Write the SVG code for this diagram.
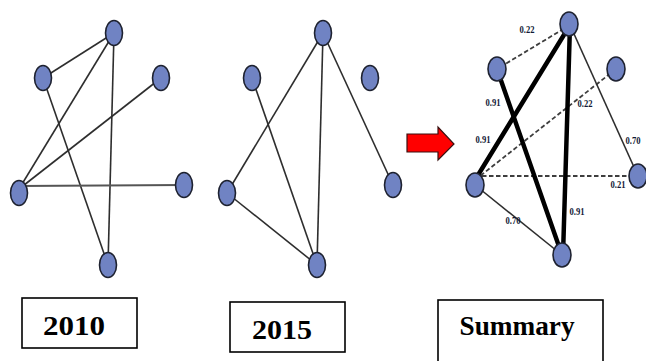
<svg xmlns="http://www.w3.org/2000/svg" width="646" height="361" viewBox="0 0 646 361">
<style>
.n{fill:#7083c3;stroke:#1e2230;stroke-width:1.6}
.e{stroke:#2e2e2e;stroke-width:1.6;fill:none}
.t{stroke:#000;stroke-width:4.5;fill:none;stroke-linecap:round}
.d{stroke:#3e3e3e;stroke-width:1.8;stroke-dasharray:4.5 2.5;fill:none}
.w{font-family:"Liberation Serif",serif;font-weight:bold;font-size:11px;fill:#121a36;text-anchor:middle}
.box{fill:#fff;stroke:#000;stroke-width:1.6}
.lbl{font-family:"Liberation Serif",serif;font-weight:bold;font-size:27px;fill:#000;text-anchor:middle}
</style>
<rect width="646" height="361" fill="#fff"/>
<g id="connectors">
<!-- 2010 -->
<line class="e" x1="114" y1="33" x2="43" y2="78"/>
<line class="e" x1="114" y1="33" x2="19" y2="189"/>
<line class="e" x1="114" y1="33" x2="108" y2="265"/>
<line class="e" x1="43" y1="78" x2="108" y2="265"/>
<line class="e" x1="19" y1="189" x2="161" y2="78"/>
<line class="e" x1="19" y1="186" x2="184" y2="185" style="stroke:#555;stroke-width:2"/>
<!-- 2015 -->
<line class="e" x1="323" y1="33" x2="227" y2="193"/>
<line class="e" x1="323" y1="33" x2="317" y2="265"/>
<line class="e" x1="323" y1="33" x2="393" y2="185"/>
<line class="e" x1="252" y1="78" x2="317" y2="265"/>
<line class="e" x1="227" y1="193" x2="317" y2="265"/>
<!-- summary -->
<line class="d" x1="570" y1="25" x2="497" y2="69"/>
<line class="d" x1="475" y1="180" x2="616" y2="69"/>
<line class="d" x1="475" y1="176" x2="638" y2="176"/>
<line class="e" x1="570" y1="25" x2="638" y2="176"/>
<line class="e" x1="475" y1="185" x2="562" y2="255"/>
<line class="t" x1="570" y1="25" x2="475" y2="180"/>
<line class="t" x1="570" y1="25" x2="563" y2="255"/>
<line class="t" x1="497" y1="69" x2="562" y2="255"/>
</g>
<g id="weights">
<text class="w" x="527" y="33" textLength="15" lengthAdjust="spacingAndGlyphs">0.22</text>
<text class="w" x="493" y="106" textLength="15" lengthAdjust="spacingAndGlyphs">0.91</text>
<text class="w" x="585" y="107" textLength="15" lengthAdjust="spacingAndGlyphs">0.22</text>
<text class="w" x="483" y="143" textLength="15" lengthAdjust="spacingAndGlyphs">0.91</text>
<text class="w" x="633" y="144" textLength="15" lengthAdjust="spacingAndGlyphs">0.70</text>
<text class="w" x="618" y="188" textLength="15" lengthAdjust="spacingAndGlyphs">0.21</text>
<text class="w" x="577" y="215" textLength="15" lengthAdjust="spacingAndGlyphs">0.91</text>
<text class="w" x="513" y="224" textLength="15" lengthAdjust="spacingAndGlyphs">0.70</text>
</g>
<g id="g2010">
<ellipse id="a1" class="n" cx="114" cy="33" rx="8.5" ry="12.5"/>
<ellipse id="a2" class="n" cx="43" cy="78" rx="8.5" ry="12.5"/>
<ellipse id="a3" class="n" cx="161" cy="78" rx="8.5" ry="12.5"/>
<ellipse id="a4" class="n" cx="19" cy="193" rx="8.5" ry="12.5"/>
<ellipse id="a5" class="n" cx="184" cy="185" rx="8.5" ry="12.5"/>
<ellipse id="a6" class="n" cx="108" cy="265" rx="8.5" ry="12.5"/>
</g>
<g id="g2015">
<ellipse id="b1" class="n" cx="323" cy="33" rx="8.5" ry="12.5"/>
<ellipse id="b2" class="n" cx="252" cy="78" rx="8.5" ry="12.5"/>
<ellipse id="b3" class="n" cx="370" cy="78" rx="8.5" ry="12.5"/>
<ellipse id="b4" class="n" cx="227" cy="193" rx="8.5" ry="12.5"/>
<ellipse id="b5" class="n" cx="393" cy="185" rx="8.5" ry="12.5"/>
<ellipse id="b6" class="n" cx="317" cy="265" rx="8.5" ry="12.5"/>
</g>
<g id="gsum">
<ellipse id="c1" class="n" cx="569" cy="24" rx="9" ry="12"/>
<ellipse id="c2" class="n" cx="497" cy="69" rx="9" ry="12"/>
<ellipse id="c3" class="n" cx="616" cy="69" rx="9" ry="12"/>
<ellipse id="c4" class="n" cx="475" cy="185" rx="9" ry="12"/>
<ellipse id="c5" class="n" cx="638" cy="176" rx="9" ry="12"/>
<ellipse id="c6" class="n" cx="562" cy="255" rx="9" ry="12"/>
</g>
<g id="arrow">
<path d="M407,134 L438,134 L438,127 L454,144 L438,160 L438,152 L407,152 Z" fill="#ff0000" stroke="#3a1010" stroke-width="1.2"/>
</g>
<g id="label2010">
<rect class="box" x="22" y="298" width="115" height="50"/>
<text class="lbl" x="74" y="335" textLength="62" lengthAdjust="spacingAndGlyphs">2010</text>
</g>
<g id="label2015">
<rect class="box" x="230" y="302" width="115" height="50"/>
<text class="lbl" x="282" y="339" textLength="60" lengthAdjust="spacingAndGlyphs">2015</text>
</g>
<g id="labelSummary">
<rect class="box" x="438" y="300" width="165" height="70"/>
<text class="lbl" x="517" y="335" textLength="115" lengthAdjust="spacingAndGlyphs">Summary</text>
</g>
</svg>
